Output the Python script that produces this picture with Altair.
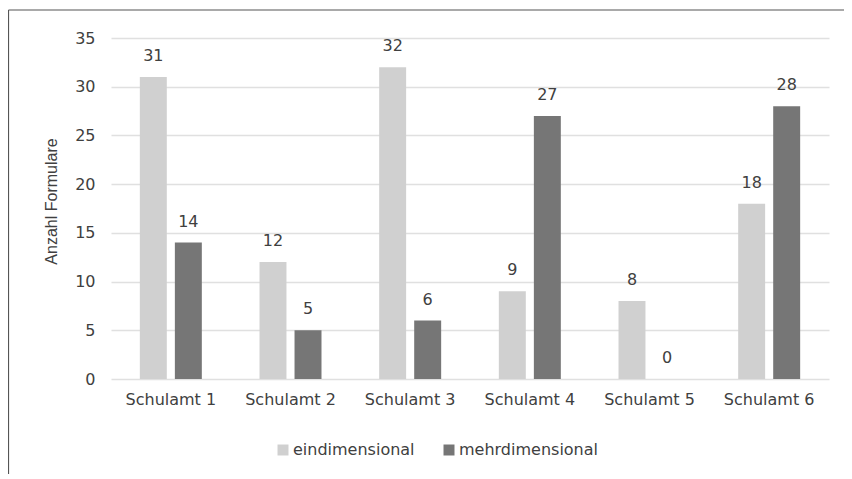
import altair as alt
import pandas as pd

categories = ["Schulamt 1", "Schulamt 2", "Schulamt 3", "Schulamt 4", "Schulamt 5", "Schulamt 6"]
series = ["eindimensional", "mehrdimensional"]
eindimensional = [31, 12, 32, 9, 8, 18]
mehrdimensional = [14, 5, 6, 27, 0, 28]
colors = ["#d0d0d0", "#767676"]
y_ticks = [0, 5, 10, 15, 20, 25, 30, 35]

rows = []
for c, a, b in zip(categories, eindimensional, mehrdimensional):
    rows.append({"Schulamt": c, "Typ": series[0], "Anzahl": a})
    rows.append({"Schulamt": c, "Typ": series[1], "Anzahl": b})
df = pd.DataFrame(rows)

FONT = "DejaVu Sans"
TXT = "#404040"

base = alt.Chart(df).encode(
    x=alt.X(
        "Schulamt:N",
        sort=categories,
        scale=alt.Scale(paddingInner=0.482, paddingOuter=0.241),
        axis=alt.Axis(
            title=None, labelAngle=0, ticks=False, domain=False, grid=False,
            labelFontSize=16, labelFont=FONT, labelColor=TXT, labelPadding=12,
        ),
    ),
    xOffset=alt.XOffset("Typ:N", sort=series, scale=alt.Scale(paddingInner=0.23, paddingOuter=0)),
    y=alt.Y(
        "Anzahl:Q",
        scale=alt.Scale(domain=[0, 35], nice=False),
        axis=alt.Axis(
            values=y_ticks, title="Anzahl Formulare", ticks=False, domain=False,
            grid=True, gridColor="#e0e0e0", gridWidth=1.4,
            labelFontSize=16, labelFont=FONT, labelColor=TXT, labelPadding=16,
            titleFont="Liberation Sans", titleFontSize=16, titleFontWeight="normal",
            titleColor=TXT, titlePadding=15, titleY=163,
        ),
    ),
)

bars = base.mark_bar().encode(
    color=alt.Color(
        "Typ:N",
        sort=series,
        scale=alt.Scale(domain=series, range=colors),
        legend=alt.Legend(
            title=None, orient="none", direction="horizontal",
            legendX=164, legendY=404,
            symbolType="square", symbolSize=121, symbolStrokeWidth=0,
            labelFont=FONT, labelFontSize=16, labelColor=TXT,
            labelOffset=2, columnPadding=26,
        ),
    )
)

labels = base.mark_text(
    baseline="bottom", dy=-13, fontSize=16, font=FONT, color=TXT
).encode(text="Anzahl:Q")

frame_data = pd.DataFrame({"k": [0]})
frame_top = alt.Chart(frame_data).mark_rule(color="#555555", strokeWidth=1.2).encode(
    x=alt.value(-102.5), x2=alt.value(900), y=alt.value(-28)
)
frame_left = alt.Chart(frame_data).mark_rule(color="#555555", strokeWidth=1.2).encode(
    x=alt.value(-102.5), y=alt.value(-28), y2=alt.value(600)
)

chart = alt.layer(frame_top, frame_left, bars, labels).properties(
    width=718,
    height=341,
    autosize=alt.AutoSizeParams(type="none"),
    padding={"left": 103, "top": 30, "right": 15, "bottom": 95},
).configure(background="white").configure_view(stroke="transparent", strokeWidth=0)

chart.save("out.html", embed_options={"renderer": "svg", "actions": False})
